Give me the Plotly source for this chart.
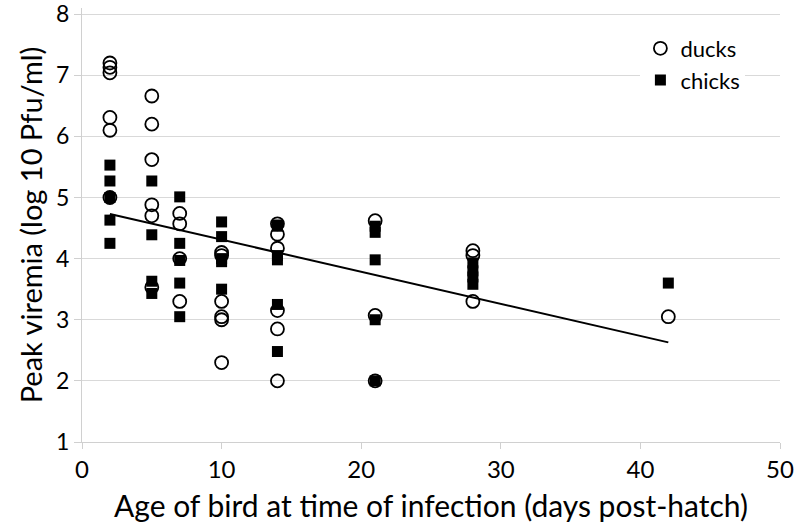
import plotly.graph_objects as go

# Ducks
duck_days = [2, 2, 2, 2, 2, 2,
             5, 5, 5, 5, 5, 5,
             7, 7, 7, 7,
             10, 10, 10, 10, 10, 10,
             14, 14, 14, 14, 14, 14,
             21, 21, 21,
             28, 28, 28,
             42]
duck_vir = [7.2, 7.13, 7.04, 6.31, 6.1, 5.0,
            6.66, 6.2, 5.62, 4.88, 4.7, 3.53,
            4.74, 4.57, 4.0, 3.3,
            4.1, 4.05, 3.3, 3.05, 3.0, 2.3,
            4.57, 4.4, 4.17, 3.15, 2.85, 2.0,
            4.62, 3.07, 2.0,
            4.13, 4.05, 3.3,
            3.05]

# Chicks
chick_days = [2, 2, 2, 2, 2,
              5, 5, 5, 5,
              7, 7, 7, 7, 7,
              10, 10, 10, 10, 10,
              14, 14, 14, 14, 14, 14,
              21, 21, 21, 21, 21,
              28, 28, 28, 28,
              42]
chick_vir = [5.53, 5.27, 5.0, 4.63, 4.25,
             5.27, 4.39, 3.63, 3.43,
             5.01, 4.25, 3.97, 3.6, 3.05,
             4.6, 4.36, 4.0, 3.95, 3.5,
             4.55, 4.53, 4.05, 3.98, 3.25, 2.48,
             4.53, 4.43, 3.98, 3.0, 2.0,
             3.93, 3.8, 3.7, 3.58,
             3.6]

# Linear trend shown in the chart
trend_intercept = 4.835
trend_slope = -0.0525
trend_days = [2, 42]

x_ticks = [0, 10, 20, 30, 40, 50]
y_ticks = [1, 2, 3, 4, 5, 6, 7, 8]

trend_y = [trend_intercept + trend_slope * d for d in trend_days]

fig = go.Figure()
fig.add_trace(go.Scatter(
    x=trend_days, y=trend_y, mode="lines",
    line=dict(color="black", width=2), showlegend=False, hoverinfo="skip"))
fig.add_trace(go.Scatter(
    x=chick_days, y=chick_vir, mode="markers", name="chicks",
    marker=dict(symbol="square", size=11, color="black",
                line=dict(color="black", width=0))))
fig.add_trace(go.Scatter(
    x=duck_days, y=duck_vir, mode="markers", name="ducks",
    marker=dict(symbol="circle-open", size=13, color="black",
                line=dict(color="black", width=1.8))))

fig.update_layout(
    width=800, height=523,
    margin=dict(l=82, r=20, t=8, b=81),
    paper_bgcolor="white", plot_bgcolor="white",
    font=dict(family="Lato", color="black"),
    legend=dict(x=0.80, y=0.955, xanchor="left", yanchor="top",
                bgcolor="white", font=dict(size=22),
                traceorder="reversed", itemsizing="trace",
                tracegroupgap=2),
    xaxis=dict(range=[0, 50], tickvals=x_ticks, showgrid=False,
               showline=True, linecolor="#d0d0d0", linewidth=1,
               ticks="outside", ticklen=6, tickcolor="#d0d0d0",
               tickfont=dict(size=24), zeroline=False, automargin=False,
               ticklabeloverflow="allow",
               title=dict(text="Age of bird at time of infection (days post-hatch)",
                          font=dict(size=30), standoff=22)),
    yaxis=dict(range=[1, 8.1], tickvals=y_ticks, showgrid=True,
               gridcolor="#d9d9d9", gridwidth=1,
               showline=True, linecolor="#d0d0d0", linewidth=1,
               ticks="outside", ticklen=7, tickcolor="#d0d0d0",
               tickfont=dict(size=23), zeroline=False, automargin=False,
               ticklabeloverflow="allow",
               title=dict(text="Peak viremia (log 10 Pfu/ml)",
                          font=dict(size=29), standoff=4)),
)

fig.write_html("out.html", config={"displayModeBar": False},
               post_script="document.body.style.margin='0';")
